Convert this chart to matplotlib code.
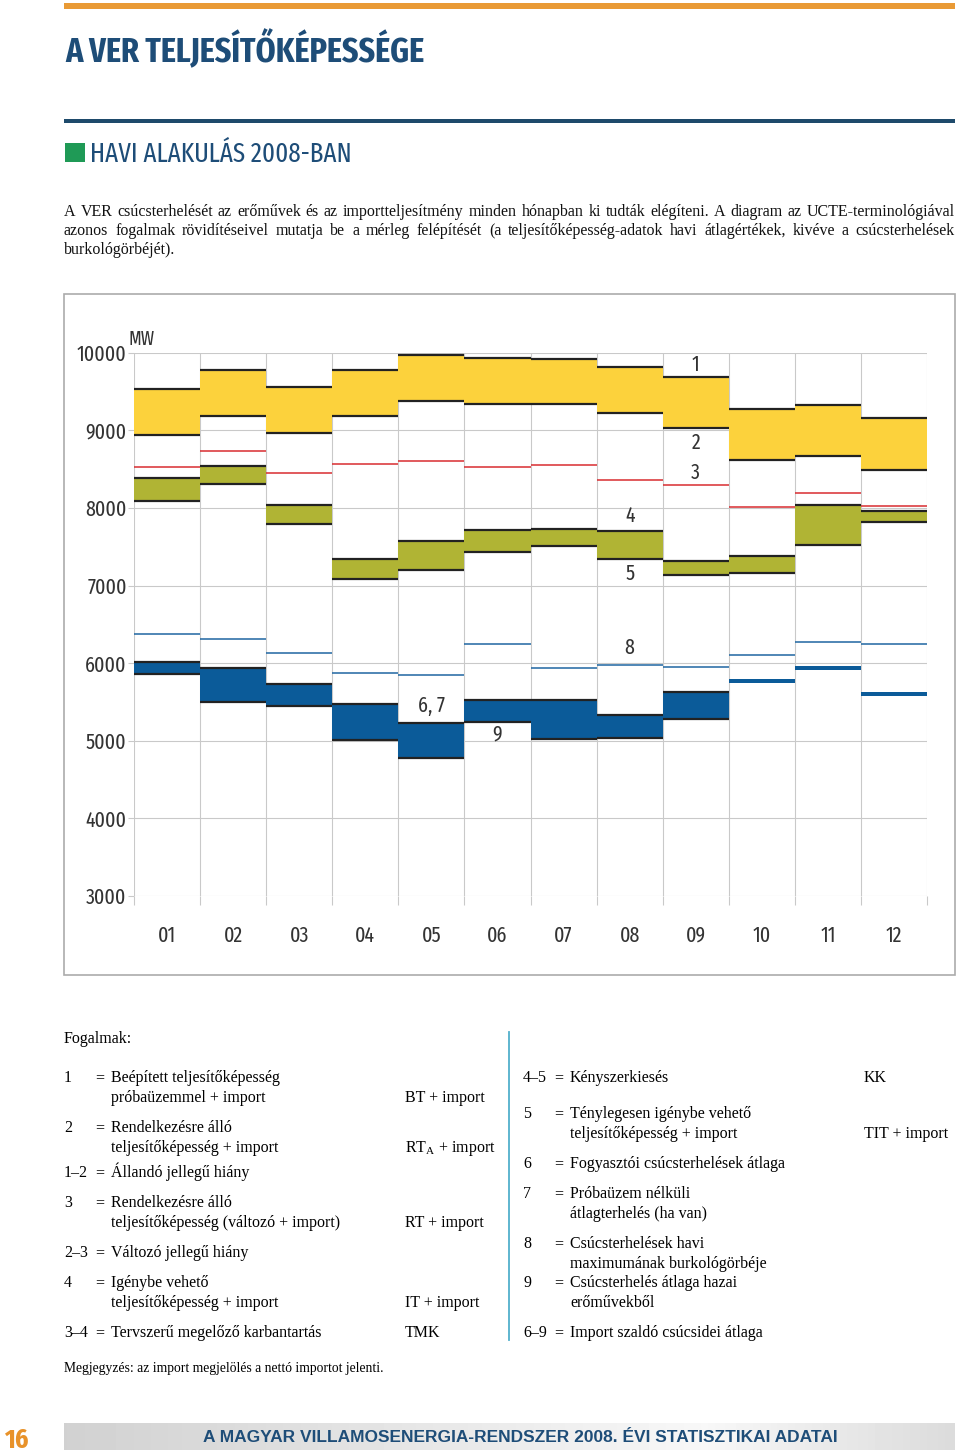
import os
import numpy as np
import matplotlib
matplotlib.use("Agg")
import matplotlib.pyplot as plt
from matplotlib import font_manager
from matplotlib.lines import Line2D
from matplotlib.patches import Rectangle

W, H = 960, 1453

# havi adatok (MW), a diagramról leolvasva
months = ["01", "02", "03", "04", "05", "06", "07", "08", "09", "10", "11", "12"]
bt_import = [9535, 9772, 9552, 9772, 9974, 9927, 9923, 9819, 9686, 9281, 9328, 9156]    # 1
rta_import = [8945, 9182, 8963, 9178, 9372, 9333, 9333, 9225, 9031, 8622, 8670, 8493]   # 2
rt_import = [8528, 8739, 8455, 8562, 8601, 8528, 8554, 8356, 8291, 8016, 8188, 8020]    # 3
it_import = [8390, 8536, 8033, 7344, 7576, 7710, 7723, 7706, 7318, 7383, 8041, 7964]    # 4
tit_import = [8084, 8304, 7787, 7081, 7198, 7430, 7512, 7340, 7142, 7163, 7516, 7813]   # 5
peak_max = [6370, 6310, 6125, 5871, 5849, 6241, 5944, 5978, 5948, 6103, 6271, 6245]     # 8
peak_avg = [6009, 5944, 5737, 5479, 5225, 5531, 5531, 5333, 5634, 5793, 5966, 5630]     # 6, 7
peak_domestic = [5854, 5496, 5453, 5014, 4777, 5242, 5023, 5040, 5281, 5750, 5918, 5582]  # 9

# számok a diagramon
chart_labels = ["1", "2", "3", "4", "5", "8", "6, 7", "9"]
label_month = [9, 9, 9, 8, 8, 8, 5, 6]
label_value = [9850, 8835, 8450, 7895, 7150, 6195, 5445, 5085]

# fogalmak
left_keys = ["1", "", "2", "", "1–2", "3", "", "2–3", "4", "", "3–4"]
left_text = ["Beépített teljesítőképesség", "próbaüzemmel + import",
             "Rendelkezésre álló", "teljesítőképesség + import",
             "Állandó jellegű hiány", "Rendelkezésre álló",
             "teljesítőképesség (változó + import)", "Változó jellegű hiány",
             "Igénybe vehető", "teljesítőképesség + import",
             "Tervszerű megelőző karbantartás"]
left_abbr = ["", "BT + import", "", r"RT$_\mathrm{A}$ + import", "", "",
             "RT + import", "", "", "IT + import", "TMK"]
left_y = [1077, 1097, 1127, 1147, 1172, 1202, 1222, 1252, 1282, 1302, 1332]

right_keys = ["4–5", "5", "", "6", "7", "", "8", "", "9", "", "6–9"]
right_text = ["Kényszerkiesés", "Ténylegesen igénybe vehető",
              "teljesítőképesség + import", "Fogyasztói csúcsterhelések átlaga",
              "Próbaüzem nélküli", "átlagterhelés (ha van)",
              "Csúcsterhelések havi", "maximumának burkológörbéje",
              "Csúcsterhelés átlaga hazai", "erőművekből",
              "Import szaldó csúcsidei átlaga"]
right_abbr = ["KK", "", "TIT + import", "", "", "", "", "", "", "", ""]
right_y = [1077, 1113, 1133, 1163, 1193, 1213, 1243, 1263, 1282, 1302, 1332]

paragraph = [
    "A VER csúcsterhelését az erőművek és az importteljesítmény minden hónapban ki tudták elégíteni. A diagram az UCTE-terminológiával",
    "azonos fogalmak rövidítéseivel mutatja be a mérleg felépítését (a teljesítőképesség-adatok havi átlagértékek, kivéve a csúcsterhelések",
    "burkológörbéjét).",
]

# színek
YELLOW = "#fcd23c"
OLIVE = "#b0b434"
BLUE = "#0b5b99"
THIN_BLUE = "#1f66a2"
RED = "#d82c30"
BLACK = "#222222"
GRID = "#c9c9c9"
NAVY = "#1e4d78"
TXT = "#333333"


# a legkeskenyebb elérhető betűtípus kiválasztása
def narrow_rank(name):
    if "extracond" in name or "ultracond" in name:
        return 0
    if "narrow" in name:
        return 1
    if "semicond" in name:
        return 3
    return 2


cond = [os.path.basename(f.fname).lower() for f in font_manager.fontManager.ttflist]
paths = {os.path.basename(f.fname).lower(): f.fname for f in font_manager.fontManager.ttflist}
cond = [n for n in cond if ("cond" in n or "narrow" in n)
        and not any(k in n for k in ("italic", "oblique"))]
cond_bold = sorted((narrow_rank(n), n) for n in cond
                   if "bold" in n and not any(k in n for k in ("semibold", "extrabold")))
cond_reg = sorted((narrow_rank(n), n) for n in cond
                  if not any(k in n for k in ("bold", "light", "thin", "black", "medium")))
if cond_reg:
    NARROW = font_manager.FontProperties(fname=paths[cond_reg[0][1]])
else:
    NARROW = font_manager.FontProperties(family="Liberation Sans")
if cond_bold:
    NARROW_BOLD = font_manager.FontProperties(fname=paths[cond_bold[0][1]])
else:
    NARROW_BOLD = font_manager.FontProperties(family="Liberation Sans", weight="bold")
WIDE_BOLD = font_manager.FontProperties(family="Liberation Sans", weight="bold")


def font(base, size):
    fp = base.copy()
    fp.set_size(size)
    return fp


SERIF = dict(family="Liberation Serif")
plt.rcParams["mathtext.fontset"] = "custom"
plt.rcParams["mathtext.rm"] = "Liberation Serif"


def px(x, y):
    return x / W, 1 - y / H


fig = plt.figure(figsize=(W / 100, H / 100), dpi=100)
renderer = fig.canvas.get_renderer()


def fitted_size(s, base, width, max_size, min_size):
    t = fig.text(0, 0, s, fontproperties=font(base, max_size))
    w = t.get_window_extent(renderer).width
    t.remove()
    return min(max(max_size * width / w, min_size), max_size)


def fit_text(x, y, s, base, width, max_size, min_size, **kw):
    """Szöveg, amelynek mérete a megadott szélességhez igazodik (korlátok között)."""
    size = fitted_size(s, base, width, max_size, min_size)
    return fig.text(*px(x, y), s, fontproperties=font(base, size), va="baseline", **kw)


# fejléc
fig.add_artist(Rectangle(px(64, 8.5), (955 - 64) / W, 5.5 / H, color="#e99a35", lw=0))
fit_text(65, 62, "A VER TELJESÍTŐKÉPESSÉGE", NARROW_BOLD, 363, 25, 21, color=NAVY)
fig.add_artist(Rectangle(px(64, 122.7), (955 - 64) / W, 3.4 / H, color="#1e4a6b", lw=0))
fig.add_artist(Rectangle(px(65, 161.7), 20 / W, 19 / H, color="#1f9a56", lw=0))
fit_text(90, 161.5, "HAVI ALAKULÁS 2008-BAN", NARROW, 275, 19.5, 17.5, color=NAVY)


# sorkizárt bekezdés
def justify(line, y, x0=64, x1=955, **kw):
    words = line.split()
    texts = [fig.text(0, 0, w, va="baseline", **kw) for w in words]
    widths = [t.get_window_extent(renderer).width for t in texts]
    gap = (x1 - x0 - sum(widths)) / max(len(words) - 1, 1)
    x = x0
    for t, w in zip(texts, widths):
        t.set_position(px(x, y))
        x += w + gap


PS = 11.5
for i, line in enumerate(paragraph):
    if i < len(paragraph) - 1:
        justify(line, 216 + 19 * i, fontsize=PS, color="#111111", **SERIF)
    else:
        fig.text(*px(64, 216 + 19 * i), line, fontsize=PS, color="#111111",
                 va="baseline", **SERIF)

# diagram keret
fig.add_artist(Rectangle(px(64, 975), (955 - 64) / W, (975 - 294) / H, fill=False,
                         ec="#ababab", lw=1.2))

ax = fig.add_axes([134 / W, 1 - 896 / H, (927 - 134) / W, (896 - 352.7) / H])
x0 = np.arange(len(months))

# 1-2 sáv (sárga) és 4-5 sáv (olajzöld)
ax.bar(x0, np.subtract(bt_import, rta_import), bottom=rta_import, width=1,
       align="edge", color=YELLOW, zorder=2)
ax.bar(x0, np.subtract(it_import, tit_import), bottom=tit_import, width=1,
       align="edge", color=OLIVE, zorder=2)
for vals in (bt_import, rta_import, it_import, tit_import):
    ax.hlines(vals, x0, x0 + 1, color=BLACK, lw=1.6, zorder=4)
ax.hlines(rt_import, x0, x0 + 1, color=RED, lw=1.1, zorder=4)

# csúcsterhelés (kék)
ax.hlines(peak_max, x0, x0 + 1, color=THIN_BLUE, lw=1.1, zorder=4)
ax.bar(x0, np.subtract(peak_avg, peak_domestic), bottom=peak_domestic, width=1,
       align="edge", color=BLUE, zorder=2)
for i in x0:
    if peak_avg[i] - peak_domestic[i] > 80:
        ax.hlines([peak_avg[i], peak_domestic[i]], i, i + 1, color=BLACK, lw=1.6, zorder=4)

TICK_SIZE = fitted_size("10000", NARROW, 50, 19.5, 14)
for lab, m, v in zip(chart_labels, label_month, label_value):
    ax.text(m - 0.5, v, lab, ha="center", va="center", color=TXT, zorder=5,
            fontproperties=font(NARROW, TICK_SIZE))

ax.set_xlim(0, 12)
ax.set_ylim(3000, 10000)
ax.set_xticks(np.arange(13))
ax.set_xticklabels([])
ax.set_xticks(x0 + 0.5, minor=True)
ax.set_xticklabels(months, minor=True, color=TXT, fontproperties=font(NARROW, TICK_SIZE))
for lab in ax.get_xticklabels(minor=True):
    lab.set_verticalalignment("baseline")
ax.set_yticks(np.arange(3000, 10001, 1000))
ax.set_yticklabels([str(v) for v in range(3000, 10001, 1000)], color=TXT,
                   fontproperties=font(NARROW, TICK_SIZE))
ax.tick_params(axis="x", which="major", length=6.5, width=0.8, color=GRID)
ax.tick_params(axis="x", which="minor", length=0, pad=33)
ax.tick_params(axis="y", length=4.3, width=0.8, color=GRID, pad=1)
ax.grid(True, which="major", color=GRID, lw=0.8, zorder=0)
ax.set_axisbelow(True)
for s in ax.spines.values():
    s.set_visible(False)
fig.text(*px(128, 345), "MW", color=TXT, va="baseline", fontproperties=font(NARROW, 14))

# fogalmak
LS = 11.5
fig.text(*px(64, 1043), "Fogalmak:", fontsize=LS, va="baseline", **SERIF)
for keys, texts, abbrs, ys, xk, xe, xt, xa in (
        (left_keys, left_text, left_abbr, left_y, 64, 95, 111, 405),
        (right_keys, right_text, right_abbr, right_y, 523, 554, 570, 864)):
    for k, t, a, y in zip(keys, texts, abbrs, ys):
        b = y + 5
        if k:
            fig.text(*px(xk, b), k, fontsize=LS, va="baseline", **SERIF)
            fig.text(*px(xe, b), "=", fontsize=LS, va="baseline", **SERIF)
        fig.text(*px(xt, b), t, fontsize=LS, va="baseline", **SERIF)
        if a:
            fig.text(*px(xa, b), a, fontsize=LS, va="baseline", **SERIF)
fig.add_artist(Line2D([509 / W, 509 / W], [1 - 1032 / H, 1 - 1340 / H],
                      color="#52b0cc", lw=1.3))
fig.text(*px(64, 1372), "Megjegyzés: az import megjelölés a nettó importot jelenti.",
         fontsize=9.8, va="baseline", **SERIF)

# lábléc
bax = fig.add_axes([64 / W, 1 - 1450 / H, (955 - 64) / W, 27 / H])
grad = np.interp(np.linspace(0, 1, 256), [0, 0.72, 1], [0.82, 0.97, 0.86])
bax.imshow(grad[None, :], cmap="gray", vmin=0, vmax=1, aspect="auto", extent=[0, 1, 0, 1])
bax.axis("off")
fit_text(4, 1448, "16", NARROW_BOLD, 25, 20, 17, color="#e8922a")
fig.text(*px(520, 1442), "A MAGYAR VILLAMOSENERGIA-RENDSZER 2008. ÉVI STATISZTIKAI ADATAI",
         color=NAVY, ha="center", va="baseline", fontproperties=font(WIDE_BOLD, 12.5))

fig.savefig("out.png", dpi=100)
